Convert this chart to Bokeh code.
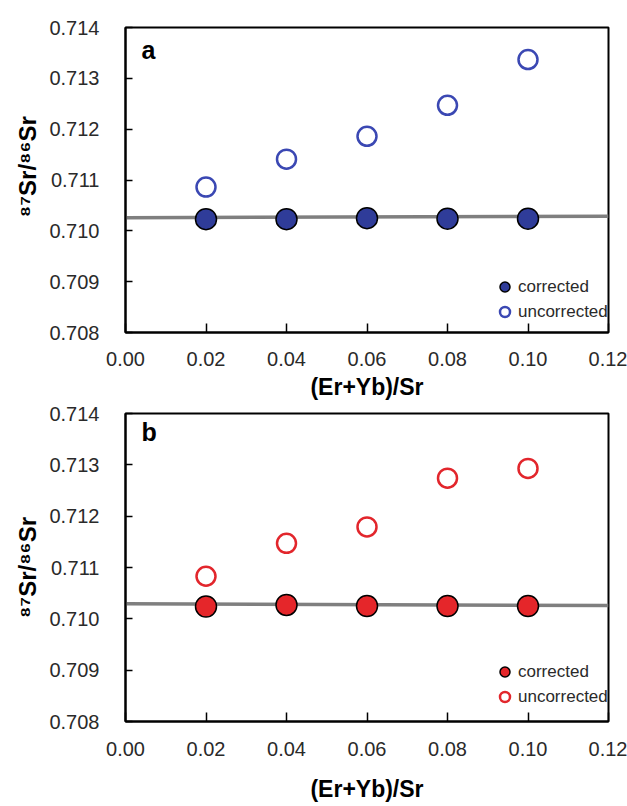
from bokeh.plotting import figure
from bokeh.layouts import column
from bokeh.models import Range1d, FixedTicker, PrintfTickFormatter, Label, Legend, LegendItem
from bokeh.embed import file_html
from bokeh.resources import INLINE

# ---- data ----
x_ratio = [0.02, 0.04, 0.06, 0.08, 0.10]
a_corrected = [0.71023, 0.71023, 0.71025, 0.71024, 0.71024]
a_uncorrected = [0.71086, 0.71141, 0.71186, 0.71247, 0.71337]
b_corrected = [0.71024, 0.71027, 0.71025, 0.71025, 0.71025]
b_uncorrected = [0.71083, 0.71147, 0.71179, 0.71274, 0.71293]
line_x = [0.0, 0.12]
a_line_y = [0.710256, 0.710289]
b_line_y = [0.710292, 0.710259]
y_ticks = [0.708, 0.709, 0.710, 0.711, 0.712, 0.713, 0.714]
x_ticks = [0.00, 0.02, 0.04, 0.06, 0.08, 0.10, 0.12]
x_title = "(Er+Yb)/Sr"
y_title = "\u2078\u2077Sr/\u2078\u2076Sr"

FONT = "Liberation Sans"
W = 627


def make_panel(letter, corr, uncorr, line_y, fill_col, open_col, height,
               border_left, border_top, border_bottom, frame_w,
               tick_standoff_x, axis_label_standoff_x, legend_bottom, letter_y,
               ytitle):
    p = figure(width=W, height=height, output_backend="svg", toolbar_location=None,
               x_range=Range1d(0.0, 0.12), y_range=Range1d(0.708, 0.714),
               min_border_left=border_left, min_border_right=W - border_left - frame_w,
               min_border_top=border_top, min_border_bottom=border_bottom)
    p.xgrid.visible = False
    p.ygrid.visible = False
    p.outline_line_color = "black"
    p.outline_line_width = 2
    p.background_fill_color = "white"
    p.border_fill_color = "white"

    for ax in (p.xaxis[0], p.yaxis[0]):
        ax.axis_line_width = 2
        ax.axis_line_color = "black"
        ax.major_tick_out = 0
        ax.minor_tick_in = 0
        ax.minor_tick_out = 0
        ax.major_tick_line_color = "black"
        ax.major_tick_line_width = 1.5
        ax.major_label_text_font = FONT
        ax.major_label_text_font_size = "20px"
        ax.major_label_text_color = "#2a2a2a"
        ax.axis_label_text_font = FONT
        ax.axis_label_text_font_style = "bold"
        ax.axis_label_text_color = "black"

    p.xaxis.ticker = FixedTicker(ticks=x_ticks)
    p.xaxis.formatter = PrintfTickFormatter(format="%.2f")
    p.xaxis.major_tick_in = 9
    p.xaxis.major_label_standoff = tick_standoff_x
    p.xaxis.axis_label = x_title
    p.xaxis.axis_label_text_font_size = "23px"
    p.xaxis.axis_label_standoff = axis_label_standoff_x

    p.yaxis.ticker = FixedTicker(ticks=y_ticks)
    p.yaxis.formatter = PrintfTickFormatter(format="%.3f")
    p.yaxis.major_tick_in = 7
    p.yaxis.major_label_standoff = 26
    p.yaxis.axis_label = ytitle
    p.yaxis.axis_label_text_font_size = "24px"
    p.yaxis.axis_label_standoff = 5

    p.line(line_x, line_y, line_color="#7f7f7f", line_width=3.5)
    r_corr = p.scatter(x_ratio, corr, size=21, marker="circle", fill_color=fill_col,
                       line_color="black", line_width=1.5)
    r_unc = p.scatter(x_ratio, uncorr, size=19, marker="circle", fill_color="white",
                      line_color=open_col, line_width=2.5)

    legend = Legend(items=[LegendItem(label="corrected", renderers=[r_corr]),
                           LegendItem(label="uncorrected", renderers=[r_unc])],
                    location=(366, legend_bottom), padding=0, margin=0, spacing=0,
                    glyph_width=27, glyph_height=25, label_standoff=0,
                    label_text_font=FONT, label_text_font_size="17px",
                    label_text_color="#2a2a2a",
                    border_line_color=None, background_fill_alpha=0)
    p.add_layout(legend)

    lab = Label(x=16, y=letter_y, x_units="screen", y_units="screen", text=letter,
                text_font=FONT, text_font_style="bold", text_font_size="25px",
                text_color="black", text_baseline="alphabetic")
    p.add_layout(lab)
    return p


H1 = 404
pa = make_panel("a", a_corrected, a_uncorrected, a_line_y, "#2f3c99", "#3b48b3",
                height=H1, border_left=123, border_top=27, border_bottom=H1 - 27 - 305,
                frame_w=485, tick_standoff_x=19, axis_label_standoff_x=5,
                legend_bottom=8, letter_y=283,
                ytitle="\u00a0\u00a0\u00a0\u00a0" + y_title)

H2 = 806 - H1
pb = make_panel("b", b_corrected, b_uncorrected, b_line_y, "#e5262a", "#e2262c",
                height=H2, border_left=125, border_top=413 - H1,
                border_bottom=H2 - (413 - H1) - 308,
                frame_w=483, tick_standoff_x=20, axis_label_standoff_x=17,
                legend_bottom=12, letter_y=290, ytitle=y_title)

layout = column(pa, pb, spacing=0)
open("out.html", "w").write(file_html(layout, INLINE))
